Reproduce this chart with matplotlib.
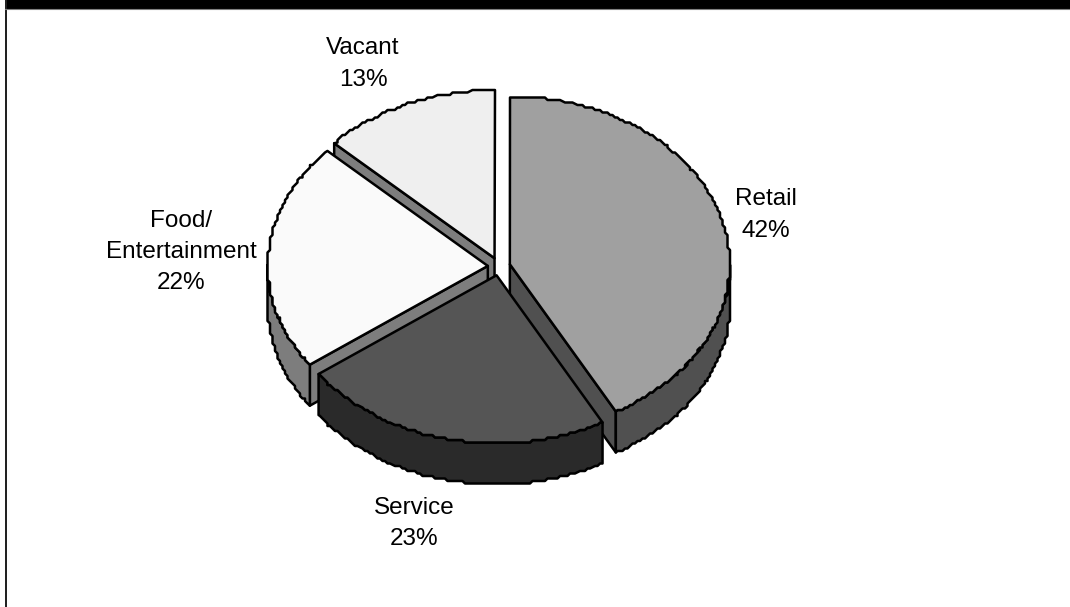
import numpy as np
import matplotlib
matplotlib.use("Agg")
import matplotlib.pyplot as plt

plt.rcParams["font.family"] = ["Liberation Sans", "DejaVu Sans"]

# share of floor space, clockwise from 12 o'clock
categories = ["Retail", "Service", "Food/\nEntertainment", "Vacant"]
shares = [42, 23, 22, 13]
face_colors = ["#a0a0a0", "#555555", "#fafafa", "#efefef"]
side_colors = ["#505050", "#2a2a2a", "#7d7d7d", "#7d7d7d"]
label_pos = [(765.5, 215), (414, 523.5), (181, 252), (363, 64)]

W, H = 1070, 607
CX, CY = 499.0, 266.5
RX, RY = 220.0, 168.0
EX, EY = 11.2, 9.0
DEPTH = 41.0
STEP = 2.5  # coarse vertex grid, gives the arcs their stepped edge


def arc(t0, t1, ox, oy):
    n = max(2, int((t1 - t0) * 1.2))
    t = np.radians(np.linspace(t0, t1, n))
    x = ox + RX * np.sin(t)
    y = oy - RY * np.cos(t)
    snap = np.ones(n, dtype=bool)
    # ends on a cut stay exact so the walls meet them
    snap[0] = t0 % 90 == 0
    snap[-1] = t1 % 90 == 0
    x[snap] = np.round(x[snap] / STEP) * STEP
    y[snap] = np.round(y[snap] / STEP) * STEP
    return x, y


def draw_slice(ax, t0, t1, face, side):
    mid = np.radians((t0 + t1) / 2)
    ox = CX + EX * np.sin(mid)
    oy = CY - EY * np.cos(mid)
    kw = dict(edgecolor="black", linewidth=1.8, joinstyle="round")

    # cut walls that face the viewer
    for t, sign in ((t0, -1), (t1, 1)):
        r = np.radians(t)
        if sign * (-np.sin(r)) < 0 and abs(np.sin(r)) > 1e-6:
            ex = ox + RX * np.sin(r)
            ey = oy - RY * np.cos(r)
            ax.fill([ox, ex, ex, ox], [oy, ey, ey + DEPTH, oy + DEPTH],
                    facecolor=side, zorder=2, **kw)

    # outer rim, only the front half of the ellipse shows
    lo, hi = max(t0, 90), min(t1, 270)
    if lo < hi:
        x, y = arc(lo, hi, ox, oy)
        ax.fill(np.r_[x, x[::-1]], np.r_[y, y[::-1] + DEPTH],
                facecolor=side, zorder=2, **kw)

    x, y = arc(t0, t1, ox, oy)
    ax.fill(np.r_[ox, x], np.r_[oy, y], facecolor=face, zorder=2, **kw)


fig = plt.figure(figsize=(W / 100, H / 100), dpi=100)
ax = fig.add_axes([0, 0, 1, 1])
ax.set_xlim(0, W)
ax.set_ylim(H, 0)
ax.axis("off")

# frame: heavy band on top, thin rule on the left
ax.fill_between([5, W], 0, 8.5, color="black", lw=0)
ax.plot([5, W], [9, 9], color="#808080", lw=0.8)
ax.fill_between([5, 7], 0, H, color="#222222", lw=0)

edges = np.r_[0, np.cumsum(shares)] * 360 / sum(shares)
order = [3, 0, 2, 1]  # back to front
for i in order:
    draw_slice(ax, edges[i], edges[i + 1], face_colors[i], side_colors[i])

for name, share, (lx, ly) in zip(categories, shares, label_pos):
    ax.text(lx, ly, f"{name}\n{share}%", ha="center", va="center",
            fontsize=17.5, linespacing=1.55, color="black", zorder=3)

fig.savefig("out.png", dpi=100)
